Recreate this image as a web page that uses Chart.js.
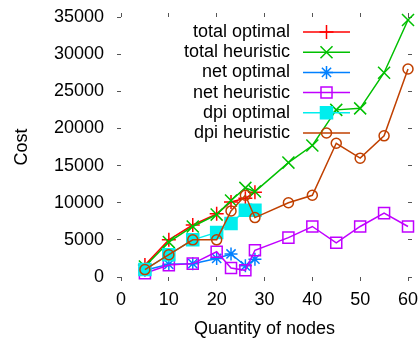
<!DOCTYPE html>
<html>
<head>
<meta charset="utf-8">
<script src="https://cdn.jsdelivr.net/npm/chart.js@4.4.1/dist/chart.umd.min.js"></script>
<style>
  html, body { margin: 0; padding: 0; background: #ffffff; }
  #wrap { width: 419px; height: 339px; position: relative; }
</style>
</head>
<body>
<div id="wrap"><canvas id="cost"></canvas></div>
<script>
// Node counts used by each family of runs
const nodesOptimal   = [5, 10, 15, 20, 23, 26, 28];
const nodesHeuristic = [5, 10, 15, 20, 23, 26, 28, 35, 40, 45, 50, 55, 60];

// Cost series
const totalOptimal   = [1600, 5000, 7000, 8500, 10100, 10600, 11400];
const totalHeuristic = [1400, 4700, 6800, 8400, 10300, 12000, 11500, 15400, 17700, 22500, 22700, 27500, 34600];
const netOptimal     = [900, 1700, 1800, 2500, 3100, 1500, 2400];
const netHeuristic   = [500, 1600, 1800, 3400, 1200, 900, 3600, 5300, 6800, 4600, 6800, 8600, 6800];
const dpiOptimal     = [1000, 3000, 5000, 6000, 7200, 9000, 9000];
const dpiHeuristic   = [1000, 3000, 5000, 5000, 8900, 11000, 8000, 10000, 11000, 18000, 16000, 19000, 28000];

// Axis ticks
const xTicks = [0, 10, 20, 30, 40, 50, 60];
const yTicks = [0, 5000, 10000, 15000, 20000, 25000, 30000, 35000];

const FONT = '"Liberation Sans", Arial, sans-serif';
const TICK_COLOR = '#555555';

function pts(xs, ys) { return xs.map((x, i) => ({ x: x, y: ys[i] })); }

function series(label, xs, ys, color, style, radius, fill) {
  return {
    label: label,
    data: pts(xs, ys),
    borderColor: color,
    borderWidth: 1.5,
    pointStyle: style,
    pointRadius: radius,
    pointHoverRadius: radius,
    pointBorderColor: color,
    pointBorderWidth: 1.5,
    pointBackgroundColor: fill ? color : 'rgba(0,0,0,0)',
    tension: 0,
    fill: false,
    clip: false
  };
}

const datasets = [
  series('total optimal',   nodesOptimal,   totalOptimal,   '#ff0000', 'cross',    7,   false),
  series('total heuristic', nodesHeuristic, totalHeuristic, '#00c000', 'crossRot', 8.5, false),
  series('net optimal',     nodesOptimal,   netOptimal,     '#0080ff', 'star',     6.5, false),
  series('net heuristic',   nodesHeuristic, netHeuristic,   '#c000ff', 'rect',     7.8, false),
  series('dpi optimal',     nodesOptimal,   dpiOptimal,     '#00eeee', 'rect',     8.5, true),
  series('dpi heuristic',   nodesHeuristic, dpiHeuristic,   '#c04000', 'circle',   5,   false)
];
// later series are painted over earlier ones
datasets.forEach((d, i) => { d.order = datasets.length - i; });

// Key in the upper part of the plot: right-aligned label, then a line sample with its marker
const plotKey = {
  id: 'plotKey',
  afterDatasetsDraw(chart) {
    const ctx = chart.ctx;
    const ca = chart.chartArea;
    const textRight = ca.right - 118;
    const lineFrom = ca.right - 105;
    const lineTo = ca.right - 58;
    const markX = (lineFrom + lineTo) / 2;
    ctx.save();
    ctx.font = '18px ' + FONT;
    ctx.textAlign = 'right';
    ctx.textBaseline = 'middle';
    chart.data.datasets.forEach((ds, i) => {
      const y = ca.top + 15 + i * 20.2;
      ctx.fillStyle = '#000000';
      ctx.fillText(ds.label, textRight, y);
      ctx.strokeStyle = ds.borderColor;
      ctx.lineWidth = ds.borderWidth;
      ctx.beginPath();
      ctx.moveTo(lineFrom, y);
      ctx.lineTo(lineTo, y);
      ctx.stroke();
      ctx.fillStyle = ds.pointBackgroundColor;
      ctx.strokeStyle = ds.pointBorderColor;
      ctx.lineWidth = ds.pointBorderWidth;
      Chart.helpers.drawPoint(ctx, {
        pointStyle: ds.pointStyle,
        radius: ds.pointRadius,
        rotation: 0,
        borderWidth: ds.pointBorderWidth
      }, markX, y);
    });
    ctx.restore();
  }
};

function tickGrid() {
  return { display: true, drawOnChartArea: false, drawTicks: true, tickLength: 4, color: TICK_COLOR, lineWidth: 1 };
}

// fixed box sizes; edge labels may overhang into the margins
function fixBox(w, h) {
  return s => {
    if (w !== null) s.width = w;
    if (h !== null) s.height = h;
    s.paddingLeft = 0; s.paddingRight = 0; s.paddingTop = 0; s.paddingBottom = 0;
  };
}

new Chart(document.getElementById('cost'), {
  type: 'line',
  data: { datasets: datasets },
  options: {
    responsive: true,
    maintainAspectRatio: false,
    animation: false,
    events: [],
    layout: { padding: 0 },
    plugins: { legend: { display: false }, tooltip: { enabled: false } },
    scales: {
      x: {
        type: 'linear', position: 'bottom', min: 0, max: 60,
        afterBuildTicks: s => { s.ticks = xTicks.map(v => ({ value: v })); },
        afterFit: fixBox(null, 62),
        grid: tickGrid(),
        border: { display: false },
        ticks: { color: '#000', font: { family: FONT, size: 18 }, padding: 8, maxRotation: 0, callback: v => String(v) },
        title: { display: true, text: 'Quantity of nodes', color: '#000', font: { family: FONT, size: 18 }, padding: { top: 0, bottom: -1 } }
      },
      x2: {
        type: 'linear', position: 'top', min: 0, max: 60, display: true,
        afterBuildTicks: s => { s.ticks = xTicks.map(v => ({ value: v })); },
        afterFit: fixBox(null, 17),
        grid: tickGrid(),
        border: { display: false },
        ticks: { display: false }
      },
      y: {
        type: 'linear', position: 'left', min: 0, max: 35000,
        afterBuildTicks: s => { s.ticks = yTicks.map(v => ({ value: v })); },
        afterFit: fixBox(121, null),
        grid: tickGrid(),
        border: { display: false },
        ticks: { color: '#000', font: { family: FONT, size: 18 }, padding: 13, callback: v => String(v) },
        title: { display: true, text: 'Cost', color: '#000', font: { family: FONT, size: 18 }, padding: { top: 11, bottom: 0 } }
      },
      y2: {
        type: 'linear', position: 'right', min: 0, max: 35000, display: true,
        afterBuildTicks: s => { s.ticks = yTicks.map(v => ({ value: v })); },
        afterFit: fixBox(11, null),
        grid: tickGrid(),
        border: { display: false },
        ticks: { display: false }
      }
    }
  },
  plugins: [plotKey]
});
</script>
</body>
</html>
